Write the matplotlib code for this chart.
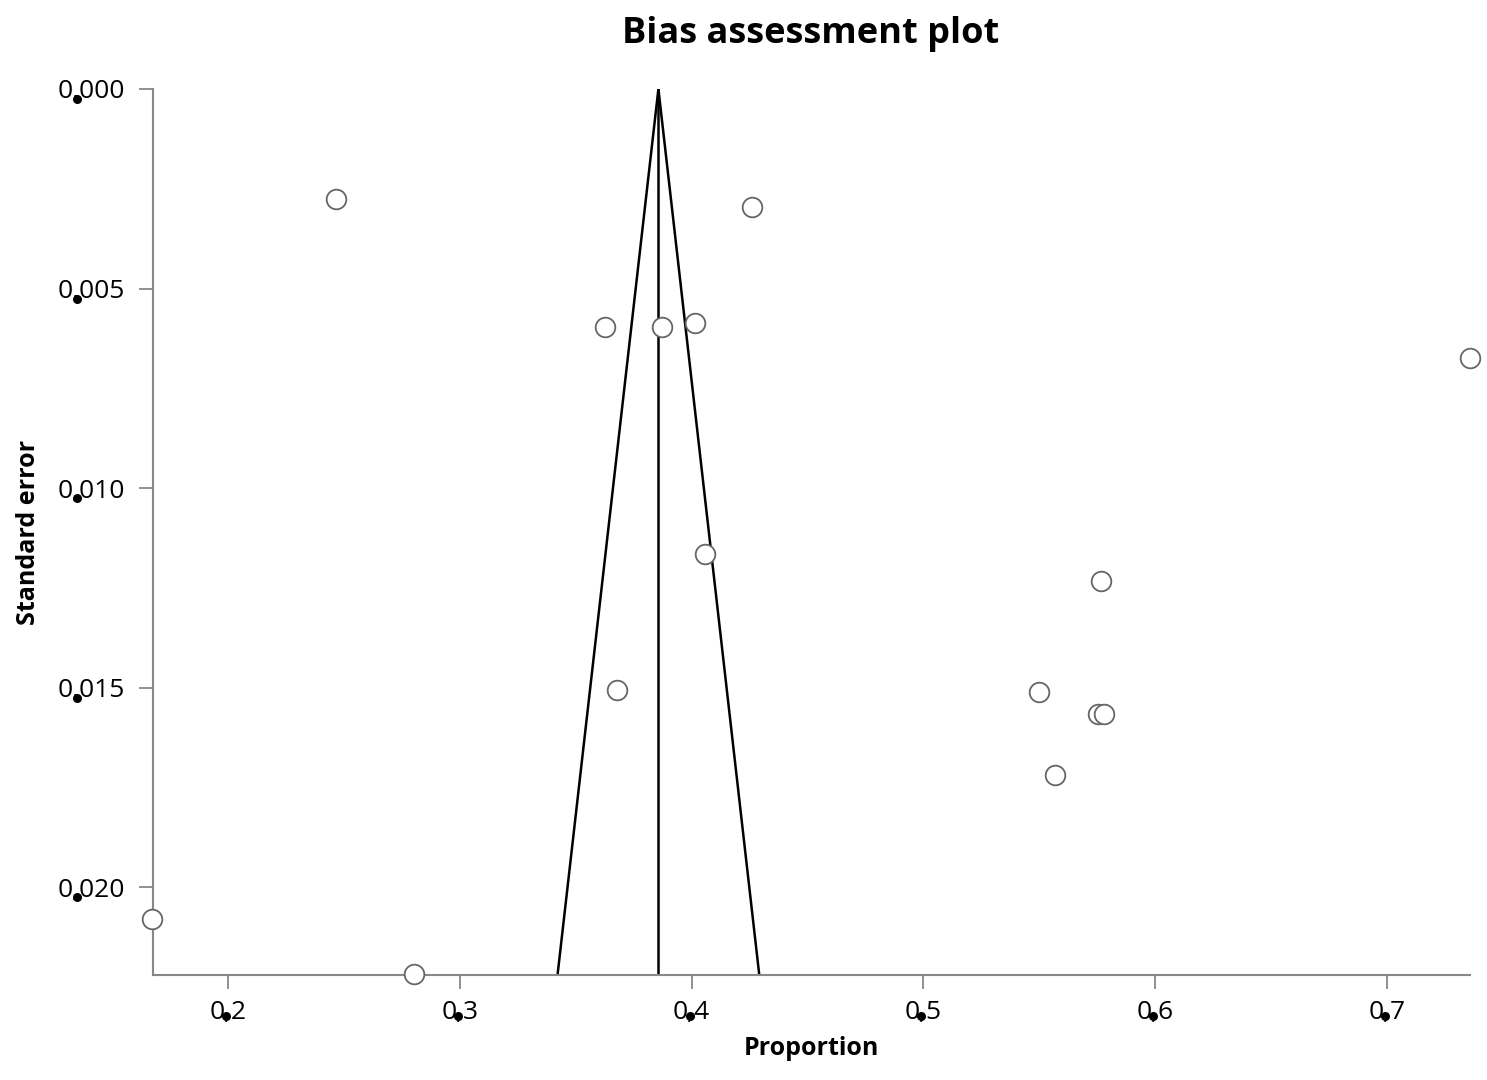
import numpy as np
import matplotlib.pyplot as plt
import matplotlib.transforms as mtransforms

plt.rcParams['font.family'] = ['Open Sans', 'DejaVu Sans']

# study estimates
proportion = [0.2466, 0.4259, 0.3625, 0.3871, 0.4013, 0.7358, 0.4056, 0.5767,
              0.3677, 0.5500, 0.5754, 0.5780, 0.5569, 0.1672, 0.2802]
std_error = [0.00276, 0.00296, 0.00596, 0.00596, 0.00586, 0.00674, 0.01165, 0.01233,
             0.01506, 0.01511, 0.01566, 0.01566, 0.01719, 0.0208, 0.02218]
pooled = 0.3857

xticks = [0.2, 0.3, 0.4, 0.5, 0.6, 0.7]
xlabels = ['0,2', '0,3', '0,4', '0,5', '0,6', '0,7']
yticks = [0.000, 0.005, 0.010, 0.015, 0.020]
ylabels = ['0,000', '0,005', '0,010', '0,015', '0,020']

x_min, x_max = 0.1677, 0.7358
se_max = 0.0222

fig = plt.figure(figsize=(14.87, 10.8), dpi=100)
ax = fig.add_axes([0.1029, 0.0972, 0.8857, 0.8204])

# funnel (95% limits)
se_line = np.array([0, se_max])
ax.plot(pooled - 1.96 * se_line, se_line, color='black', lw=1.8)
ax.plot(pooled + 1.96 * se_line, se_line, color='black', lw=1.8)
ax.plot([pooled, pooled], [0, se_max], color='black', lw=1.8)

ax.scatter(proportion, std_error, s=200, facecolors='white', edgecolors='#666666',
           linewidths=1.3, zorder=3, clip_on=False)

ax.set_xlim(x_min, x_max)
ax.set_ylim(se_max, 0)

ax.set_xticks(xticks)
ax.set_xticklabels(xlabels)
ax.set_yticks(yticks)
ax.set_yticklabels(ylabels)
ax.tick_params(axis='both', direction='out', length=10, width=1.3, color='#888888',
               labelsize=19, labelcolor='black')
ax.tick_params(axis='y', pad=10)
ax.tick_params(axis='x', pad=8)

for s in ['top', 'right']:
    ax.spines[s].set_visible(False)
for s in ['left', 'bottom']:
    ax.spines[s].set_color('#888888')
    ax.spines[s].set_linewidth(1.5)

# heavy decimal dots under the tick labels
ytrans = mtransforms.blended_transform_factory(ax.transAxes, ax.transData) + \
    mtransforms.ScaledTranslation(0, -0.10, fig.dpi_scale_trans)
ax.scatter([-0.0577] * len(yticks), yticks, s=30, color='black', transform=ytrans,
           clip_on=False, zorder=4)
xtrans = mtransforms.blended_transform_factory(ax.transData, ax.transAxes) + \
    mtransforms.ScaledTranslation(-0.02, 0, fig.dpi_scale_trans)
ax.scatter(xticks, [-0.0463] * len(xticks), s=30, color='black', transform=xtrans,
           clip_on=False, zorder=4)

ax.set_xlabel('Proportion', fontsize=18, fontweight='bold', labelpad=8)
ax.set_ylabel('Standard error', fontsize=18, fontweight='bold', labelpad=12)
fig.suptitle('Bias assessment plot', fontsize=26, fontweight='bold', x=0.545, y=0.985)

fig.savefig('out.png', dpi=100)
